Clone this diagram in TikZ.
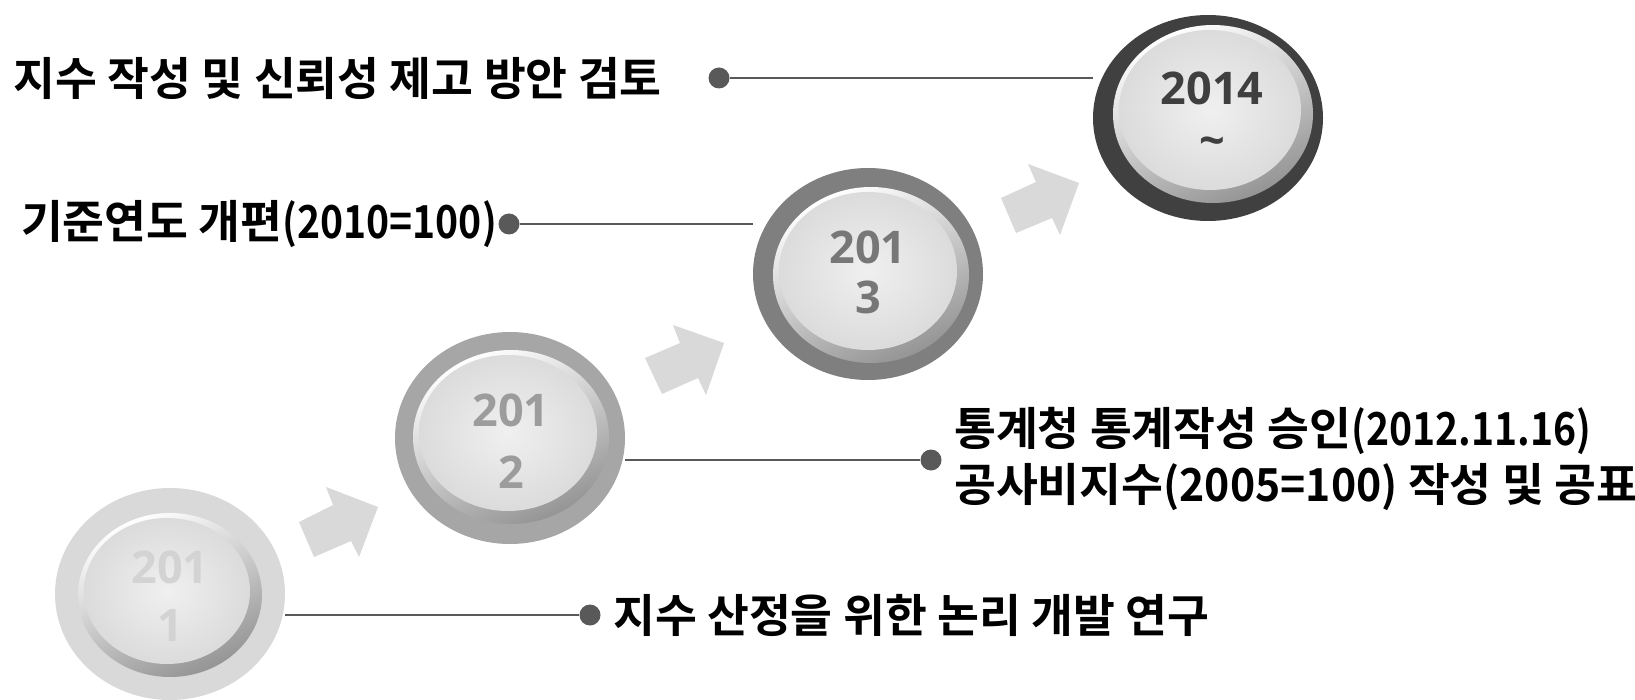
\documentclass[tikz,border=0pt]{standalone}
\usepackage{fontspec}
\usetikzlibrary{shapes.geometric,calc}
\newfontfamily\kr{Noto Sans CJK KR Bold}
\newfontfamily\krn{Noto Sans CJK KR Bold}[FakeStretch=0.86]
\newfontfamily\krm{Noto Sans CJK KR Bold}[FakeStretch=0.94]
\newfontfamily\yr{Open Sans}
\newcommand\lat[1]{{\krn #1}}
\newcommand\latm[1]{{\krm #1}}
\definecolor{ringA}{HTML}{D9D9D9}
\definecolor{ringB}{HTML}{A6A6A6}
\definecolor{ringC}{HTML}{7F7F7F}
\definecolor{ringD}{HTML}{404040}
\definecolor{yrA}{HTML}{D3D3D3}
\definecolor{yrB}{HTML}{9C9C9C}
\definecolor{yrC}{HTML}{777777}
\definecolor{yrD}{HTML}{3F3F3F}
\definecolor{linec}{HTML}{595959}
\definecolor{arrowc}{HTML}{D9D9D9}
\pgfdeclarelayer{background}
\pgfdeclarelayer{paper}
\pgfsetlayers{paper,background,main}
\tikzset{
  ring/.style={ellipse, draw=none, inner sep=0pt, minimum width=230pt, minimum height=212pt},
  yeartext/.style={font=\yr\bfseries\fontsize{45}{55}\selectfont, align=center, inner sep=0pt},
  dot/.style={circle, fill=linec, draw=none, inner sep=0pt, minimum size=21pt},
  conn/.style={draw=linec, line width=2pt},
  label/.style={font=\kr\fontsize{45.5}{56}\selectfont, inner sep=0pt, text=black},
  bigarrow/.style={fill=arrowc, draw=none},
}
\newcommand\drawbtn[3]{%
  \shade[top color=white, bottom color=black!42, shading angle=25] (#1) ellipse [x radius=#2pt, y radius=#3pt];
  \shade[inner color=black!6, outer color=black!14] ($(#1)+(-3,-4)$) ellipse [x radius=#2pt-9pt, y radius=#3pt-9pt];
}
\begin{document}
\begin{tikzpicture}[x=1pt,y=-1pt]
\begin{pgfonlayer}{paper}
\fill[white] (0,0) rectangle (1635,700);
\end{pgfonlayer}
\useasboundingbox (0,0) rectangle (1635,700);

% arrows
\fill[bigarrow] (299,522) -- (333,505) -- (326,487) -- (378,507) -- (359,557) -- (351,541) -- (314,557) -- cycle;
\fill[bigarrow] (645,358) -- (680,343) -- (673,325) -- (724,343) -- (706,395) -- (698,378) -- (662,394) -- cycle;
\fill[bigarrow] (1001,198) -- (1036,182) -- (1028,164) -- (1079,183) -- (1060,235) -- (1052,218) -- (1016,233) -- cycle;

% rings
\node[ring, fill=ringA] (c1) at (170,594) {};
\node[ring, fill=ringB] (c2) at (510,438) {};
\node[ring, fill=ringC] (c3) at (868,274) {};
\node[ring, fill=ringD, minimum height=206pt] (c4) at (1208,118) {};

% buttons
\coordinate (b1) at (170,595);
\coordinate (b2) at (511,437);
\coordinate (b3) at (871,275);
\coordinate (b4) at (1213,114);
\drawbtn{b1}{92}{82}
\drawbtn{b2}{98}{87}
\drawbtn{b3}{98}{88}
\drawbtn{b4}{100}{89}

% year texts
\node[yeartext, text=yrA] (y1) at (170,596) {201\\[3pt]1};
\node[yeartext, text=yrB] (y2) at (511,441) {201\\[7pt]2};
\node[yeartext, text=yrC] (y3) at (868,272) {201\\[-5pt]3};
\node[yeartext, text=yrD] (y4) at (1212,114) {2014\\[-3pt]\textasciitilde};

% dots
\node[dot] (d1) at (590,615) {};
\node[dot] (d2) at (931,460) {};
\node[dot] (d3) at (509,224) {};
\node[dot] (d4) at (719,78) {};

% connectors
\begin{pgfonlayer}{background}
\draw[conn] (d1) -- (d1 -| c1.east);
\draw[conn] (d2) -- (d2 -| c2.east);
\draw[conn] (d3) -- (d3 -| c3.west);
\draw[conn] (d4) -- (d4 -| c4.west);
\end{pgfonlayer}

% labels
\node[label, anchor=west] (t1) at (613,615) {지수 산정을 위한 논리 개발 연구};
\node[label, anchor=west, align=left] (t2) at (954,459) {통계청 통계작성 승인\lat{(2012.11.16)}\\공사비지수\latm{(2005=100)} 작성 및 공표};
\node[label, anchor=east] (t3) at (497,224) {기준연도 개편\lat{(2010=100)}};
\node[label, anchor=east] (t4) at (662,78) {지수 작성 및 신뢰성 제고 방안 검토};
\end{tikzpicture}
\end{document}
